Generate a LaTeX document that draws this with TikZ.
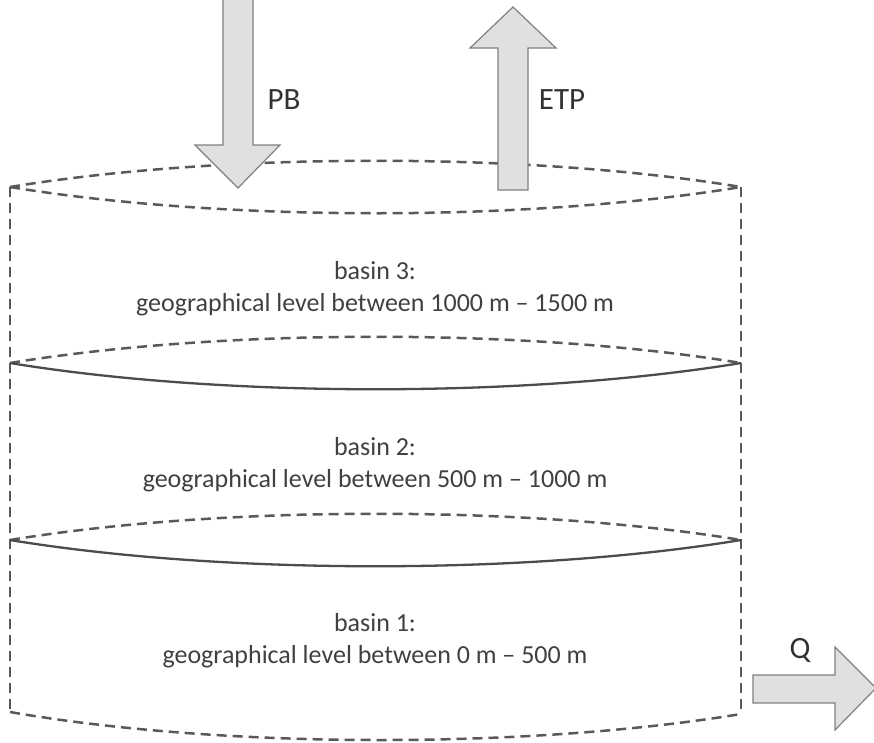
\documentclass[tikz,border=0pt]{standalone}
\usepackage{fontspec}
\setmainfont{Carlito}
\begin{document}
\begin{tikzpicture}[x=1pt,y=-1pt,
  rim/.style={draw=black!65, line width=2.5pt, dash pattern=on 10pt off 6pt},
  seam/.style={draw=black!70, line width=2.3pt},
  flow/.style={draw=black!50, fill=black!12, line width=1.2pt, line join=miter},
  caption/.style={text=black!75, font=\fontsize{26}{32}\selectfont, align=center},
  tag/.style={text=black!80, font=\fontsize{31}{34}\selectfont}]
\useasboundingbox (0,0) rectangle (874,742);
\clip (0,0) rectangle (874,742);

% side walls of the stacked basins
\draw[rim] (10,187) -- (10,712);
\draw[rim] (741,187) -- (741,714);

% top surface
\draw[rim] (10,187) .. controls (223,152) and (528,152) .. (741,187);
\draw[rim] (10,187) .. controls (223,222) and (528,222) .. (741,187);

% boundary between basin 3 and basin 2
\draw[rim]  (10,363) .. controls (223,328) and (528,328) .. (741,363);
\draw[seam] (10,363) .. controls (223,398) and (528,398) .. (741,363);

% boundary between basin 2 and basin 1
\draw[rim]  (10,540) .. controls (223,505) and (528,505) .. (741,540);
\draw[seam] (10,540) .. controls (223,575) and (528,575) .. (741,540);

% bottom
\draw[rim] (10,712) .. controls (223,749) and (528,749) .. (741,714);

% precipitation arrow
\draw[flow] (223,-2) -- (253,-2) -- (253,145) -- (280,145) -- (238,188)
  -- (195,145) -- (223,145) -- cycle;
% evapotranspiration arrow
\draw[flow] (498,190) -- (528,190) -- (528,48) -- (556,48) -- (513,7)
  -- (470,48) -- (498,48) -- cycle;
% outflow arrow
\draw[flow] (753,675) -- (835,675) -- (835,647) -- (876,688) -- (835,730)
  -- (835,703) -- (753,703) -- cycle;

\node[tag] (pb) at (284,100) {PB};
\node[tag] (etp) at (562,100) {ETP};
\node[tag] (q) at (800,650) {Q};

\node[caption] (b3) at (375,289) {basin 3:\\geographical level between 1000 m -- 1500 m};
\node[caption] (b2) at (375,465) {basin 2:\\geographical level between 500 m -- 1000 m};
\node[caption] (b1) at (375,641) {basin 1:\\geographical level between 0 m -- 500 m};
\end{tikzpicture}
\end{document}
